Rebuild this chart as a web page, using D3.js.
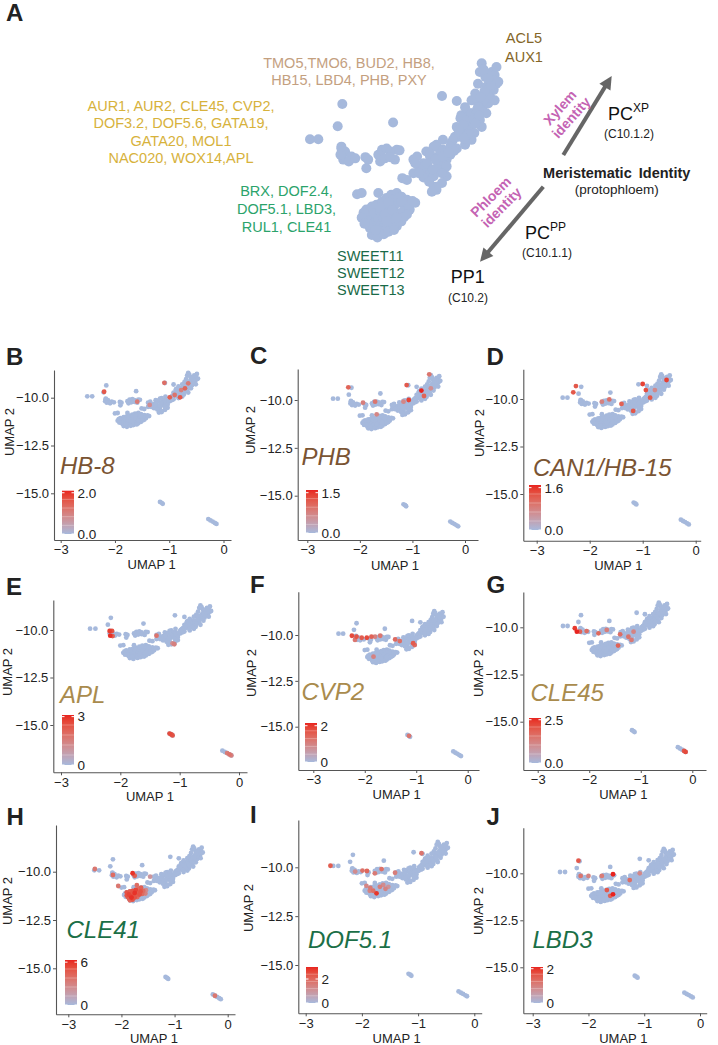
<!DOCTYPE html>
<html><head><meta charset="utf-8">
<script src="https://cdn.jsdelivr.net/npm/d3@7"></script>
<style>
body{margin:0;background:#fff}
svg{display:block}
text{font-family:"Liberation Sans",Arial,Helvetica,sans-serif}
</style>
</head><body>
<svg id="fig" width="718" height="1045"></svg>
<script>
// ---------------- DATA ----------------
// UMAP coordinates of the cells (UMAP 1, UMAP 2)
const cells = [
[-2.51,-9.93],[-2.42,-9.93],[-2.21,-9.72],[-2.16,-9.36],[-1.61,-9.66],[-1.08,-9.23],[-0.92,-9.31],
[-2.17,-10.08],[-2.13,-10.13],[-2.06,-10.21],[-2.15,-10.26],[-2.09,-10.29],[-2.18,-10.18],[-2.02,-10.24],[-1.91,-10.22],[-1.88,-10.26],[-1.90,-10.40],[-1.77,-10.18],[-1.73,-10.10],[-1.68,-10.08],[-1.64,-10.13],[-1.57,-10.10],[-1.54,-10.11],[-1.59,-10.26],[-1.75,-10.29],[-1.70,-10.24],[-1.64,-10.22],[-2.17,-10.05],
[-2.00,-10.82],[-1.51,-10.56],[-1.77,-10.80],[-1.95,-10.80],
[-1.90,-11.07],[-1.84,-11.02],[-1.79,-10.99],[-1.73,-10.94],[-1.68,-10.88],[-1.63,-10.83],[-1.57,-10.80],[-1.52,-10.86],[-1.46,-10.91],[-1.37,-10.96],
[-1.86,-11.18],[-1.81,-11.13],[-1.75,-11.10],[-1.70,-11.07],[-1.64,-11.02],[-1.59,-10.99],[-1.54,-10.96],[-1.48,-11.04],
[-1.82,-11.29],[-1.77,-11.23],[-1.72,-11.21],[-1.66,-11.18],[-1.61,-11.15],[-1.55,-11.13],[-1.50,-11.10],
[-1.86,-11.37],[-1.81,-11.34],[-1.75,-11.34],[-1.70,-11.31],[-1.64,-11.29],[-1.59,-11.26],[-1.54,-11.23],
[-1.84,-11.48],[-1.79,-11.45],[-1.73,-11.42],[-1.68,-11.39],[-1.63,-11.37],[-1.57,-11.34],[-1.52,-11.26],[-1.46,-11.15],[-1.43,-11.07],
[-1.61,-10.91],[-1.55,-10.88],[-1.90,-11.23],[-1.88,-11.31],
[-1.93,-11.12],[-1.95,-11.20],[-1.92,-11.30],[-1.78,-11.52],[-1.71,-11.47],[-1.66,-11.43],[-1.60,-11.40],[-1.49,-11.19],[-1.44,-11.00],[-1.40,-10.93],[-1.52,-10.93],[-1.66,-10.96],[-1.75,-11.04],[-1.70,-11.15],[-1.62,-11.08],[-1.57,-11.20],[-1.80,-11.40],[-1.68,-11.26],
[-1.39,-10.26],[-1.34,-10.35],[-1.30,-10.43],[-1.26,-10.51],[-1.21,-10.45],[-1.25,-10.13],[-1.21,-10.21],[-1.14,-10.02],[-1.12,-10.21],[-1.07,-10.10],[-1.03,-10.26],[-0.99,-10.18],[-1.05,-10.40],[-1.03,-10.53],[-1.08,-10.64],[-1.14,-10.75],[-1.17,-10.70],[-0.98,-9.99],[-0.94,-9.89],[-0.89,-9.86],[-0.83,-10.02],[-0.92,-10.08],[-1.08,-10.32],[-1.14,-10.40],[-1.35,-10.21],[-1.28,-10.32],
[-0.87,-9.54],[-0.78,-9.51],[-0.88,-9.59],[-0.81,-9.73],[-0.90,-9.89],[-0.96,-9.94],[-0.99,-10.05],[-1.07,-9.94],[-1.10,-10.13],[-1.17,-10.05],[-1.21,-10.16],[-1.15,-10.26],[-1.07,-10.21],[-1.03,-10.37],[-1.08,-10.48],[-1.17,-10.53],[-1.14,-10.70],[-1.19,-10.78],[-1.28,-10.37],[-1.37,-10.32],[-1.39,-10.48],[-1.46,-10.59],
[-0.69,-9.03],[-0.61,-8.92],[-0.60,-9.08],[-0.54,-8.84],[-0.51,-8.89],[-0.72,-9.19],[-0.76,-9.30],[-0.65,-9.41],[-0.70,-9.30],[-0.83,-9.41],[-0.92,-9.73],[-0.85,-9.81],
[-0.78,-9.78],[-0.74,-9.67],[-0.76,-9.51],[-0.87,-9.57],[-0.71,-9.51],[-0.63,-9.38],[-0.56,-9.24],[-0.52,-9.13],[-0.49,-9.03],[-0.67,-9.62],[-0.81,-9.62],[-0.60,-9.51],[-0.85,-9.70],[-0.73,-9.83],[-0.76,-9.94],[-0.90,-9.78],[-0.65,-9.73],[-0.58,-9.35],[-0.51,-9.30],
[-0.65,-8.70],[-0.49,-8.76],[-0.67,-8.84],[-0.52,-8.97],[-0.47,-9.00],[-0.56,-9.11],[-0.58,-9.22],[-0.63,-9.30],[-0.69,-9.41],
[-0.62,-9.15],[-0.66,-9.25],[-0.70,-9.45],[-0.74,-9.60],[-0.55,-9.05],[-0.58,-8.95],[-0.63,-8.80],[-0.68,-9.55],[-0.72,-9.68],[-0.79,-9.85],[-0.84,-9.92],[-0.95,-10.12],[-1.01,-10.15],[-1.24,-10.33],[-1.18,-10.42],[-1.28,-10.55],[-1.22,-10.62],[-1.33,-10.48],
[-1.17,-15.45],[-1.14,-15.50],[-1.12,-15.55],[-0.28,-16.35],[-0.24,-16.42],[-0.20,-16.48],[-0.16,-16.55],[-0.13,-16.60]
];

// expressing cells per gene: [UMAP 1, UMAP 2, expression]
const exprHB8 = [[-2.20,-9.69,1.6],[-1.59,-10.21,1.1],[-1.09,-9.22,1.3],[-0.99,-9.98,1.5],[-0.90,-9.86,1.2],[-0.80,-9.98,1.6],[-0.78,-9.60,1.0],[-0.71,-9.51,1.4],[-1.36,-10.38,0.8],[-0.65,-9.25,1.1]];
const exprPHB = [[-2.22,-9.34,1.1],[-1.94,-10.14,0.8],[-1.71,-10.09,0.9],[-1.68,-10.75,0.7],[-1.11,-9.22,1.2],[-1.07,-10.0,1.4],[-0.83,-9.51,1.6],[-0.78,-9.79,1.1],[-0.68,-8.66,0.9],[-0.65,-9.39,0.6],[-1.17,-10.09,0.7]];
const exprHB15 = [[-2.26,-9.32,1.3],[-2.31,-9.65,1.3],[-1.77,-10.14,0.8],[-1.63,-10.02,1.0],[-1.40,-10.26,1.2],[-1.18,-10.63,1.3],[-1.00,-9.21,1.5],[-0.94,-9.53,1.4],[-0.86,-9.93,1.3],[-0.55,-9.00,1.5],[-0.77,-9.53,0.7]];
const exprAPL = [[-2.18,-10.05,2.8],[-2.14,-10.05,2.5],[-2.17,-10.30,3.0],[-2.13,-10.32,2.2],[-1.39,-10.30,1.8],[-1.12,-10.70,1.2],[-1.09,-10.75,1.5],[-1.17,-15.45,2.6],[-1.14,-15.50,2.5],[-1.12,-15.55,2.4],[-0.20,-16.48,1.6],[-0.16,-16.55,1.8],[-0.13,-16.60,1.5]];
const exprCVP2 = [[-2.25,-10.04,1.8],[-2.16,-10.09,1.7],[-2.06,-10.15,1.6],[-1.96,-10.15,1.8],[-1.87,-10.09,1.5],[-2.19,-10.27,1.2],[-1.80,-10.09,1.0],[-1.70,-10.04,1.2],[-1.83,-11.18,1.0],[-1.41,-10.24,1.4],[-1.32,-10.33,1.3],[-1.06,-10.45,1.6],[-1.03,-10.55,1.4],[-1.14,-15.50,1.2]];
const exprCLE45 = [[-2.28,-10.05,2.4],[-2.24,-10.23,2.7],[-2.18,-10.23,1.8],[-2.05,-10.20,1.6],[-1.82,-10.32,1.7],[-1.66,-10.14,1.3],[-1.40,-10.37,1.6],[-1.24,-10.50,1.5],[-1.18,-10.67,1.4],[-1.44,-10.97,1.8],[-1.14,-10.23,1.2],[-0.16,-16.55,2.0],[-0.13,-16.60,2.2]];
const exprCLE41 = [[-2.50,-9.86,3.5],[-2.16,-10.17,4.0],[-2.06,-10.74,3.5],[-1.79,-10.08,6.0],[-1.75,-10.21,4.5],[-1.71,-10.69,4.0],[-1.46,-10.26,2.0],
[-1.90,-11.07,5.0],[-1.84,-11.02,4.5],[-1.79,-10.99,5.0],[-1.73,-10.94,5.5],[-1.68,-10.88,4.0],[-1.63,-10.83,4.5],[-1.86,-11.18,5.5],[-1.81,-11.13,5.0],[-1.75,-11.10,6.0],[-1.70,-11.07,4.5],[-1.64,-11.02,5.0],[-1.59,-10.99,4.0],[-1.82,-11.29,5.5],[-1.77,-11.23,5.0],[-1.72,-11.21,4.5],[-1.66,-11.18,5.0],[-1.61,-11.15,4.0],[-1.86,-11.37,4.5],[-1.81,-11.34,6.0],[-1.75,-11.34,5.0],[-1.70,-11.31,4.0],[-1.90,-11.23,5.0],[-1.88,-11.31,4.5],[-1.84,-11.48,4.0],[-1.79,-11.45,5.0],[-1.55,-11.13,3.0],[-1.54,-10.96,2.5],[-0.24,-16.42,3.5]];
const exprDOF51 = [[-2.56,-9.92,2.2],[-2.12,-10.22,1.2],[-1.99,-10.17,1.8],[-1.91,-10.19,2.0],[-1.77,-10.31,1.6],[-1.65,-10.09,1.8],[-1.41,-10.28,1.5],[-0.94,-9.28,1.7],[-1.92,-10.95,1.3],[-1.85,-11.05,1.6],[-1.80,-11.20,1.8],[-1.74,-11.33,2.8],[-1.68,-11.00,1.5],[-1.62,-10.90,1.2],[-1.58,-11.10,1.4],[-1.53,-11.00,1.0],[-1.86,-11.20,1.4]];
const exprLBD3 = [[-2.18,-9.33,1.6],[-2.14,-10.14,1.2],[-2.00,-10.14,1.0],[-1.76,-10.14,1.1],[-1.56,-10.05,2.2],[-1.67,-10.89,1.6],[-1.56,-11.12,2.2],[-1.61,-11.20,1.5],[-1.26,-10.36,1.3],[-1.08,-10.00,0.9]];

const xTicks = [-3,-2,-1,0];
const yTicks = [-10,-12.5,-15];
const geneNames = ["HB-8","PHB","CAN1/HB-15","APL","CVP2","CLE45","CLE41","DOF5.1","LBD3"];
const panelLetters = ["B","C","D","E","F","G","H","I","J"];
const exprSets = [exprHB8,exprPHB,exprHB15,exprAPL,exprCVP2,exprCLE45,exprCLE41,exprDOF51,exprLBD3];
const legendMax = [2.1,1.6,1.7,3.1,2.15,2.6,6.3,3.0,2.1];
const legendBreaks = [[0,2],[0,1.5],[0,1.6],[0,3],[0,2],[0,2.5],[0,6],[0,2],[0,2]];
const legendFormat = [".1f",".1f",".1f","d","d",".1f","d","d","d"];

const listXylem = ["TMO5,TMO6, BUD2, HB8,","HB15, LBD4, PHB, PXY"];
const listTip = ["ACL5","AUX1"];
const listGold = ["AUR1, AUR2, CLE45, CVP2,","DOF3.2, DOF5.6, GATA19,","GATA20, MOL1","NAC020, WOX14,APL"];
const listGreen = ["BRX, DOF2.4,","DOF5.1, LBD3,","RUL1, CLE41"];
const listSweet = ["SWEET11","SWEET12","SWEET13"];

// ---------------- STYLE / LAYOUT ----------------
const LOW = "#a6b9dc", HIGH = "#e8231f";
const BROWN = "#7a5433", TAN = "#a98b4d", DKGREEN = "#1b6f47";
const geneColors = [BROWN,BROWN,BROWN,TAN,TAN,TAN,DKGREEN,DKGREEN,DKGREEN];
// x3/x0: px of UMAP1=-3/0 ; y10/y15: px of UMAP2=-10/-15 ; L,R,T,B: axis frame
const layout = [
 {x3:60.7,x0:223.5,y10:397.7,y15:493.3,L:54,R:231,T:370,B:540, let:[6,365], gene:[60,474], leg:[62,490.7,534], u2:[9,432], u1:[151.7,569]},
 {x3:307.3,x0:465,y10:400,y15:495.7,L:297.7,R:478,T:369,B:540, let:[250,363.5], gene:[301.5,465], leg:[306,490,533], u2:[250,430], u1:[395,569.5]},
 {x3:536.7,x0:695.7,y10:399,y15:494,L:523.3,R:700.7,T:369.3,B:540.7, let:[486.5,365], gene:[533,476], leg:[529,485,530], u2:[479,433], u1:[618.3,569.5]},
 {x3:61,x0:239,y10:630,y15:725,L:53.3,R:247,T:600,B:772.3, let:[6,595], gene:[60,703], leg:[62,715,765], u2:[7,672], u1:[150,800.5]},
 {x3:313.3,x0:467.7,y10:635,y15:726.7,L:298.3,R:479,T:591.7,B:770, let:[250,593], gene:[301.5,700], leg:[305,723,762], u2:[251,673], u1:[396.7,799]},
 {x3:537.7,x0:692.3,y10:627.3,y15:721.7,L:523.3,R:706,T:592,B:770, let:[486.5,593], gene:[530.5,701], leg:[529,718,763], u2:[478,673], u1:[623.3,799]},
 {x3:68.3,x0:227.7,y10:871.7,y15:968.3,L:56,R:235,T:825,B:1014.3, let:[6.5,825], gene:[66.5,938], leg:[65,960,1005], u2:[7,901], u1:[154,1043]},
 {x3:305.7,x0:474.3,y10:867.3,y15:965,L:298.3,R:481.7,T:820,B:1013.3, let:[250,823], gene:[308,948], leg:[306,967,1003], u2:[248,908], u1:[396.7,1043]},
 {x3:532.7,x0:700,y10:873.3,y15:967.3,L:523.3,R:706.7,T:827.7,B:1013.3, let:[486.5,825], gene:[532.5,948], leg:[531,967,1003], u2:[478,911], u1:[623.3,1043]}
];

const svg = d3.select("#fig");
const defs = svg.append("defs");

// ---------------- PANEL A ----------------
const gA = svg.append("g");
gA.append("text").attr("x",6).attr("y",21).attr("font-size",24).attr("font-weight","bold").attr("fill","#222").text("A");

const ax = d3.scaleLinear().domain([-2.51,-0.65]).range([310,481.7]);
const ay = d3.scaleLinear().domain([-9.91,-8.70]).range([138,63.3]);
gA.append("g").selectAll("circle").data(cells.filter(d=>d[1]>-12.5)).join("circle")
  .attr("cx",d=>ax(d[0])).attr("cy",d=>ay(d[1])).attr("r",5).attr("fill",LOW);

function block(lines,x,y0,dy,color,anchor,size){
  const t = gA.append("text").attr("font-size",size||14.5).attr("fill",color).attr("text-anchor",anchor||"middle");
  lines.forEach((s,i)=>t.append("tspan").attr("x",x).attr("y",y0+i*dy).text(s));
}
block(listXylem,349,68,17.3,"#c4a07f");
block(listTip,524,43,18.5,"#846628");
block(listGold,181,111,17.4,"#d7b23c");
block(listGreen,286.5,196,17.8,"#2ba36b");
block(listSweet,337,261,17.2,"#1a6a48","start");

function arrow(x1,y1,x2,y2){
  const dx=x2-x1, dy=y2-y1, len=Math.hypot(dx,dy), ux=dx/len, uy=dy/len;
  const hl=13, hw=6.5;
  const bx=x2-ux*hl, by=y2-uy*hl;
  gA.append("line").attr("x1",x1).attr("y1",y1).attr("x2",bx+ux*2).attr("y2",by+uy*2)
    .attr("stroke","#666").attr("stroke-width",4);
  gA.append("path").attr("d",`M${x2},${y2}L${bx-uy*hw},${by+ux*hw}L${bx+uy*hw},${by-ux*hw}Z`).attr("fill","#666");
}
arrow(563.3,155,611.7,76);
arrow(543.3,186.7,480,261.7);

function rotLabel(cx,cy,ang,l1,l2){
  const g = gA.append("g").attr("transform",`translate(${cx},${cy}) rotate(${ang})`);
  const t = g.append("text").attr("text-anchor","middle").attr("font-size",14).attr("font-weight","bold").attr("fill","#c463b3");
  t.append("tspan").attr("x",0).attr("y",-2.5).text(l1);
  t.append("tspan").attr("x",0).attr("y",12.5).text(l2);
}
rotLabel(565.5,112.5,-48,"Xylem","identity");
rotLabel(496,202,-45,"Phloem","identity");

gA.append("text").attr("x",616.7).attr("y",177.7).attr("text-anchor","middle").attr("font-size",14.5).attr("font-weight","bold").attr("fill","#222").style("word-spacing","3px").text("Meristematic Identity");
gA.append("text").attr("x",616.7).attr("y",193.5).attr("text-anchor","middle").attr("font-size",13.5).attr("fill","#222").text("(protophloem)");

function pcLabel(x,y,sup,sub,subx){
  const t = gA.append("text").attr("x",x).attr("y",y).attr("font-size",18).attr("fill","#111");
  t.append("tspan").text("PC");
  t.append("tspan").attr("font-size",12).attr("dy",-8).text(sup);
  gA.append("text").attr("x",subx).attr("y",y+17.5).attr("text-anchor","middle").attr("font-size",12).attr("fill","#222").text(sub);
}
pcLabel(608,120,"XP","(C10.1.2)",629);
pcLabel(525,239.3,"PP","(C10.1.1)",547);
gA.append("text").attr("x",450.7).attr("y",283.3).attr("font-size",18).attr("fill","#111").text("PP1");
gA.append("text").attr("x",468).attr("y",301.7).attr("text-anchor","middle").attr("font-size",12).attr("fill","#222").text("(C10.2)");

// ---------------- PANELS B-J ----------------
layout.forEach((p,i)=>{
  const g = svg.append("g");
  const x = d3.scaleLinear().domain([-3,0]).range([p.x3,p.x0]);
  const y = d3.scaleLinear().domain([-10,-15]).range([p.y10,p.y15]);
  const xa = x.copy().domain([x.invert(p.L),x.invert(p.R)]).range([p.L,p.R]);
  const ya = y.copy().domain([y.invert(p.B),y.invert(p.T)]).range([p.B,p.T]);
  const col = d3.scaleLinear().domain([0,legendMax[i]]).range([LOW,HIGH]).interpolate(d3.interpolateLab).clamp(true);

  // points
  g.append("g").selectAll("circle").data(cells).join("circle")
    .attr("cx",d=>x(d[0])).attr("cy",d=>y(d[1])).attr("r",2.4).attr("fill",LOW);
  g.append("g").selectAll("circle").data(exprSets[i].slice().sort((a,b)=>a[2]-b[2])).join("circle")
    .attr("cx",d=>x(d[0])).attr("cy",d=>y(d[1])).attr("r",2.4).attr("fill",d=>col(d[2]));

  // axes
  const gx = g.append("g").attr("transform",`translate(0,${p.B})`)
    .call(d3.axisBottom(xa).tickValues(xTicks).tickFormat(d3.format("d")).tickSize(3).tickSizeOuter(0).tickPadding(2));
  const gy = g.append("g").attr("transform",`translate(${p.L},0)`)
    .call(d3.axisLeft(ya).tickValues(yTicks).tickFormat(d3.format(".1f")).tickSize(3).tickSizeOuter(0).tickPadding(2));
  [gx,gy].forEach(a=>{
    a.attr("font-size",13).attr("font-family",null).attr("color","#555");
    a.select(".domain").attr("stroke-width",1.1);
    a.selectAll("text").attr("fill","#222");
  });

  g.append("text").attr("x",p.u1[0]).attr("y",p.u1[1]).attr("text-anchor","middle").attr("font-size",13).attr("fill","#222").text("UMAP 1");
  g.append("text").attr("transform",`translate(${p.u2[0]},${p.u2[1]}) rotate(-90)`).attr("text-anchor","middle").attr("dy","0.35em").attr("font-size",13).attr("fill","#222").text("UMAP 2");

  // letter & gene
  g.append("text").attr("x",p.let[0]).attr("y",p.let[1]).attr("font-size",24).attr("font-weight","bold").attr("fill","#222").text(panelLetters[i]);
  g.append("text").attr("x",p.gene[0]).attr("y",p.gene[1]).attr("font-size",24).attr("font-style","italic").attr("fill",geneColors[i]).text(geneNames[i]);

  // colour bar legend
  const [lx,lt,lb] = p.leg, lw = 12;
  const gid = "grad"+i;
  const grad = defs.append("linearGradient").attr("id",gid).attr("x1",0).attr("y1",1).attr("x2",0).attr("y2",0);
  d3.range(0,1.0001,0.05).forEach(f=>grad.append("stop").attr("offset",f).attr("stop-color",col(f*legendMax[i])));
  g.append("rect").attr("x",lx).attr("y",lt).attr("width",lw).attr("height",lb-lt).attr("fill",`url(#${gid})`);
  const ls = d3.scaleLinear().domain([0,legendMax[i]]).range([lb,lt]);
  [0.2,0.4,0.6,0.8].forEach(f=>{
    const yy = lb-(lb-lt)*f;
    g.append("line").attr("x1",lx).attr("x2",lx+lw).attr("y1",yy).attr("y2",yy).attr("stroke","#fff").attr("stroke-opacity",0.35).attr("stroke-width",0.8);
  });
  legendBreaks[i].forEach(b=>{
    const yy = ls(b);
    g.append("line").attr("x1",lx).attr("x2",lx+2.5).attr("y1",yy).attr("y2",yy).attr("stroke","#fff").attr("stroke-width",1);
    g.append("line").attr("x1",lx+lw-2.5).attr("x2",lx+lw).attr("y1",yy).attr("y2",yy).attr("stroke","#fff").attr("stroke-width",1);
    g.append("text").attr("x",lx+lw+3.5).attr("y",yy).attr("dy","0.36em").attr("font-size",13.5).attr("fill","#222").text(d3.format(legendFormat[i])(b));
  });
});
</script>
</body></html>
